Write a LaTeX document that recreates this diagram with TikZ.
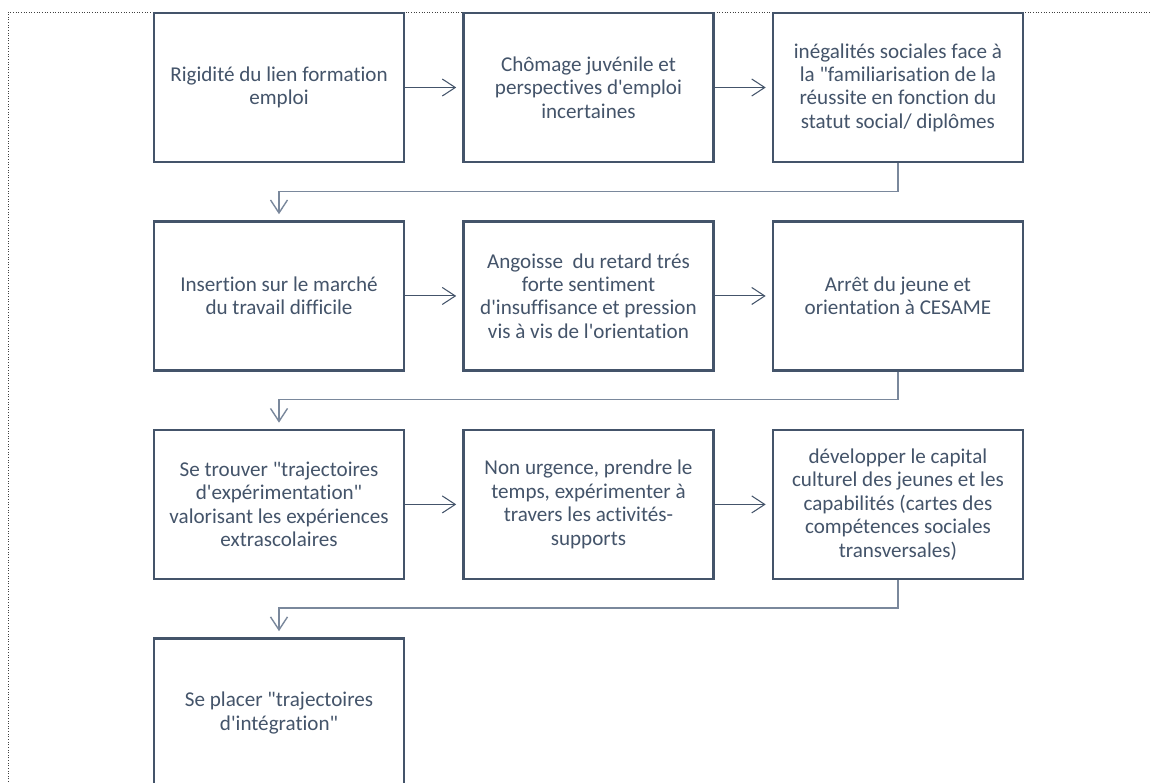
\documentclass[tikz,border=0pt]{standalone}
\usepackage{fontspec}
\setmainfont{Carlito}[Ligatures={TeXOff, NoCommon}]
\usepackage{tikz}
\usetikzlibrary{positioning, arrows.meta}
\definecolor{ink}{HTML}{44546A}
\definecolor{wire}{HTML}{7A889C}
\definecolor{frame}{HTML}{404040}

\begin{document}
\begin{tikzpicture}[
  font=\fontsize{12}{13.3}\selectfont,
  >={Straight Barb[length=2.6mm, width=3.4mm]},
  box/.style={rectangle, draw=ink, line width=1.4pt, fill=white, text=ink, align=center,
              minimum width=5cm, minimum height=2.98cm, inner sep=2pt},
  arr/.style={->, line width=0.6pt, draw=ink, shorten >=1.2mm},
  elbow/.style={->, line width=0.8pt, draw=wire, shorten >=1.2mm},
  node distance=1.14cm and 1.14cm,
]
\useasboundingbox (0,0) rectangle (23,-15.64);
\draw[frame, densely dotted, line width=0.5pt] (0.16,-15.64) -- (0.16,-0.24) -- (23,-0.24);

% ---------------- row 1 ----------------
\node[box] (rigid) at (5.58,-1.75) {Rigidité du lien formation\\emploi};
\node[box, right=of rigid] (chomage) {Chômage juvénile et\\perspectives d'emploi\\incertaines};
\node[box, right=of chomage] (inegal) {inégalités sociales face à\\la "familiarisation de la\\réussite en fonction du\\statut social/ diplômes};
\draw[arr] (rigid.east) -- (chomage.west);
\draw[arr] (chomage.east) -- (inegal.west);

% ---------------- row 2 ----------------
\node[box, below=of rigid] (insert) {Insertion sur le marché\\du travail difficile};
\node[box, right=of insert] (angoisse) {Angoisse\ \ du retard trés\\forte sentiment\\d'insuffisance et pression\\vis à vis de l'orientation};
\node[box, right=of angoisse] (arret) {Arrêt du jeune et\\orientation à CESAME};
\draw[elbow] (inegal.south) -- ++(0,-0.56) -| (insert.north);
\draw[arr] (insert.east) -- (angoisse.west);
\draw[arr] (angoisse.east) -- (arret.west);

% ---------------- row 3 ----------------
\node[box, below=of insert] (trouver) {Se trouver "trajectoires\\d'expérimentation"\\valorisant les expériences\\extrascolaires};
\node[box, right=of trouver] (urgence) {Non urgence, prendre le\\temps, expérimenter à\\travers les activités-\\supports};
\node[box, right=of urgence] (capital) {développer le capital\\culturel des jeunes et les\\capabilités (cartes des\\compétences sociales\\transversales)};
\draw[elbow] (arret.south) -- ++(0,-0.56) -| (trouver.north);
\draw[arr] (trouver.east) -- (urgence.west);
\draw[arr] (urgence.east) -- (capital.west);

% ---------------- row 4 ----------------
\node[box, below=of trouver] (placer) {Se placer "trajectoires\\d'intégration"};
\draw[elbow] (capital.south) -- ++(0,-0.56) -| (placer.north);

\end{tikzpicture}
\end{document}
